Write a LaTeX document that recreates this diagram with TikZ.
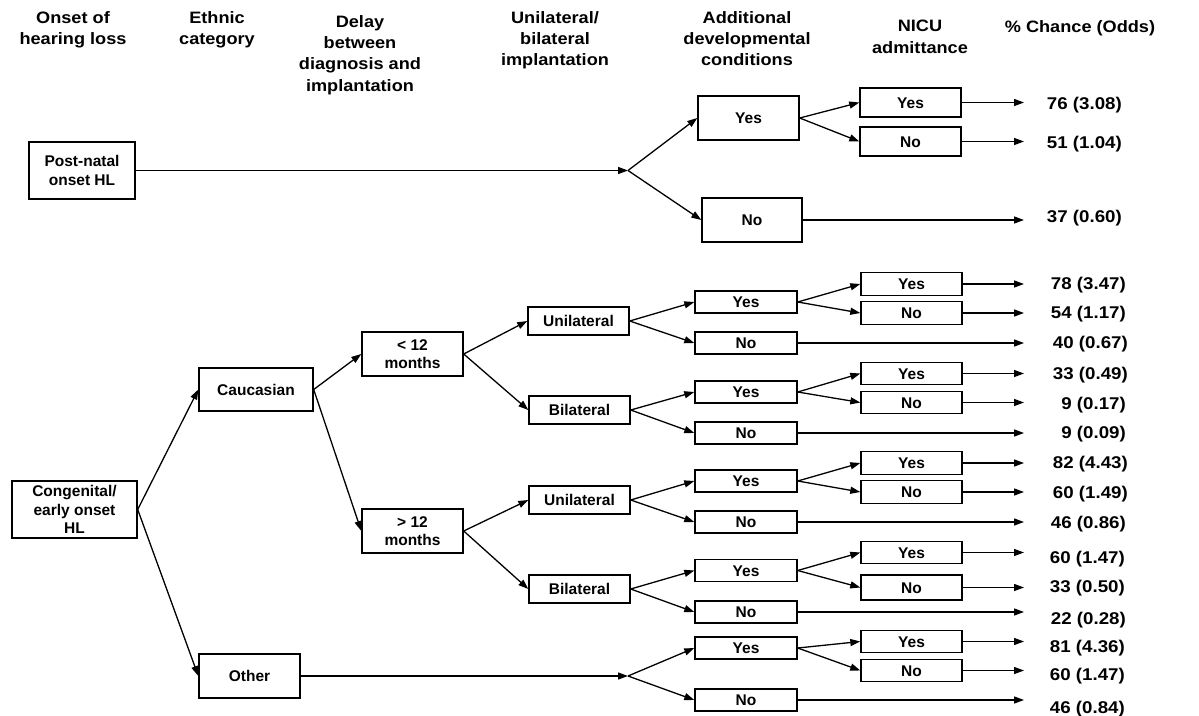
\documentclass[tikz,border=0pt]{standalone}
\usepackage{fontspec}
\setmainfont{Liberation Sans}
\newfontfamily\widefont{Liberation Sans}[FakeStretch=1.1]
\usetikzlibrary{arrows.meta}
\begin{document}
\begin{tikzpicture}[x=1pt,y=-1pt,
  box/.style={draw, line width=1.4pt, inner sep=0pt, align=center,
    font=\bfseries\fontsize{15.5}{18.5}\selectfont},
  sbox/.style={box, text height=11.2pt, text depth=0pt},
  lfive/.style={sbox, minimum width=102pt, minimum height=22pt},
  nicu/.style={sbox, minimum width=101pt, minimum height=22.5pt},
  arr/.style={line width=1.3pt, -{Triangle[length=10pt,width=7pt]}},
  hdr/.style={anchor=north, inner sep=0pt, align=center,
    font=\widefont\bfseries\fontsize{16.5}{21.3}\selectfont},
  val/.style={anchor=east, inner sep=0pt, text height=12pt, text depth=0pt,
    font=\widefont\bfseries\fontsize{17}{20}\selectfont},
]
\fill[white] (0,0) rectangle (1199,715);
\useasboundingbox (0,0) rectangle (1199,715);

% headers
\node[hdr] (h1) at (73,11) {Onset of\\hearing loss};
\node[hdr] (h2) at (217,11) {Ethnic\\category};
\node[hdr] (h3) at (360,15) {Delay\\between\\diagnosis and\\implantation};
\node[hdr] (h4) at (555,11) {Unilateral/\\bilateral\\implantation};
\node[hdr] (h5) at (747,11) {Additional\\developmental\\conditions};
\node[hdr] (h6) at (920,20) {NICU\\admittance};
\node[hdr] (h7) at (1080,20) {\% Chance (Odds)};

% column 1
\node[box, minimum width=106pt, minimum height=57pt] (post) at (82,170.5) {Post-natal\\onset HL};
\node[box, minimum width=125pt, minimum height=57pt] (cong) at (74.5,509.5) {Congenital/\\early onset\\HL};

% column 2
\node[sbox, minimum width=114pt, minimum height=43pt] (cauc) at (256,389.5) {Caucasian};
\node[sbox, minimum width=101pt, minimum height=44pt] (other) at (249.5,676) {Other};

% column 3
\node[box, minimum width=101pt, minimum height=44pt] (lt) at (412.5,354) {< 12\\months};
\node[box, minimum width=101pt, minimum height=44pt] (gt) at (412.5,531) {> 12\\months};

% column 4
\node[sbox, minimum width=101pt, minimum height=28pt] (uA) at (578.5,321) {Unilateral};
\node[sbox, minimum width=101pt, minimum height=28pt] (bA) at (579.5,410) {Bilateral};
\node[sbox, minimum width=101pt, minimum height=28pt] (uB) at (579.5,500) {Unilateral};
\node[sbox, minimum width=101pt, minimum height=28pt] (bB) at (579.5,589) {Bilateral};

% column 5
\node[sbox, minimum width=101pt, minimum height=44pt] (pY) at (748.5,118) {Yes};
\node[sbox, minimum width=100pt, minimum height=44pt] (pN) at (752,220) {No};
\node[lfive] (aY) at (746,302) {Yes};
\node[lfive] (aN) at (746,343) {No};
\node[lfive] (bY) at (746,392) {Yes};
\node[lfive] (bN) at (746,433) {No};
\node[lfive] (cY) at (746,481) {Yes};
\node[lfive] (cN) at (746,522) {No};
\node[lfive] (dY) at (746,570.5) {Yes};
\node[lfive] (dN) at (746,612) {No};
\node[lfive] (eY) at (746,648) {Yes};
\node[lfive] (eN) at (746,700) {No};

% column 6
\node[nicu, minimum height=29pt] (pYY) at (910.5,102.5) {Yes};
\node[nicu, minimum height=29pt] (pYN) at (910.5,141.5) {No};
\node[nicu] (aYY) at (911.5,284) {Yes};
\node[nicu] (aYN) at (911.5,313) {No};
\node[nicu] (bYY) at (911.5,373.5) {Yes};
\node[nicu] (bYN) at (911.5,402.5) {No};
\node[nicu] (cYY) at (911.5,463) {Yes};
\node[nicu] (cYN) at (911.5,492) {No};
\node[nicu] (dYY) at (911.5,552.5) {Yes};
\node[nicu, minimum height=25pt] (dYN) at (911.5,587.5) {No};
\node[nicu] (eYY) at (911.5,641.5) {Yes};
\node[nicu] (eYN) at (911.5,670.5) {No};

% junctions and arrow end column
\coordinate (j1) at (628,170.5);
\coordinate (j2) at (628,676);
\coordinate (ve) at (1024,0);

% connectors
\draw[arr] (post.east) -- (j1);
\draw[arr] (j1) -- (pY.west);
\draw[arr] (j1) -- (pN.west);
\draw[arr] (pY.east) -- (pYY.west);
\draw[arr] (pY.east) -- (pYN.west);

\draw[arr] (cong.east) -- (cauc.west);
\draw[arr] (cong.east) -- (other.west);
\draw[arr] (cauc.east) -- (lt.west);
\draw[arr] (cauc.east) -- (gt.west);
\draw[arr] (lt.east) -- (uA.west);
\draw[arr] (lt.east) -- (bA.west);
\draw[arr] (gt.east) -- (uB.west);
\draw[arr] (gt.east) -- (bB.west);

\draw[arr] (uA.east) -- (aY.west);
\draw[arr] (uA.east) -- (aN.west);
\draw[arr] (bA.east) -- (bY.west);
\draw[arr] (bA.east) -- (bN.west);
\draw[arr] (uB.east) -- (cY.west);
\draw[arr] (uB.east) -- (cN.west);
\draw[arr] (bB.east) -- (dY.west);
\draw[arr] (bB.east) -- (dN.west);
\draw[arr] (other.east) -- (j2);
\draw[arr] (j2) -- (eY.west);
\draw[arr] (j2) -- (eN.west);

\draw[arr] (aY.east) -- (aYY.west);
\draw[arr] (aY.east) -- (aYN.west);
\draw[arr] (bY.east) -- (bYY.west);
\draw[arr] (bY.east) -- (bYN.west);
\draw[arr] (cY.east) -- (cYY.west);
\draw[arr] (cY.east) -- (cYN.west);
\draw[arr] (dY.east) -- (dYY.west);
\draw[arr] (dY.east) -- (dYN.west);
\draw[arr] (eY.east) -- (eYY.west);
\draw[arr] (eY.east) -- (eYN.west);

% arrows to outcomes
\foreach \n in {pYY,pYN,pN,aYY,aYN,aN,bYY,bYN,bN,cYY,cYN,cN,dYY,dYN,dN,eYY,eYN,eN}
  \draw[arr] (\n.east) -- (\n.east -| ve);

% values
\node[val] (v1) at (1122,103) {76 (3.08)};
\node[val] (v2) at (1122,142) {51 (1.04)};
\node[val] (v3) at (1122,216) {37 (0.60)};
\node[val] (v4) at (1126,283) {78 (3.47)};
\node[val] (v5) at (1126,312) {54 (1.17)};
\node[val] (v6) at (1128,342) {40 (0.67)};
\node[val] (v7) at (1128,373) {33 (0.49)};
\node[val] (v8) at (1126,403) {9 (0.17)};
\node[val] (v9) at (1126,432) {9 (0.09)};
\node[val] (v10) at (1128,462) {82 (4.43)};
\node[val] (v11) at (1128,492) {60 (1.49)};
\node[val] (v12) at (1126,522) {46 (0.86)};
\node[val] (v13) at (1125,557) {60 (1.47)};
\node[val] (v14) at (1125,586) {33 (0.50)};
\node[val] (v15) at (1126,618) {22 (0.28)};
\node[val] (v16) at (1125,646) {81 (4.36)};
\node[val] (v17) at (1125,674) {60 (1.47)};
\node[val] (v18) at (1125,707) {46 (0.84)};
\end{tikzpicture}
\end{document}
